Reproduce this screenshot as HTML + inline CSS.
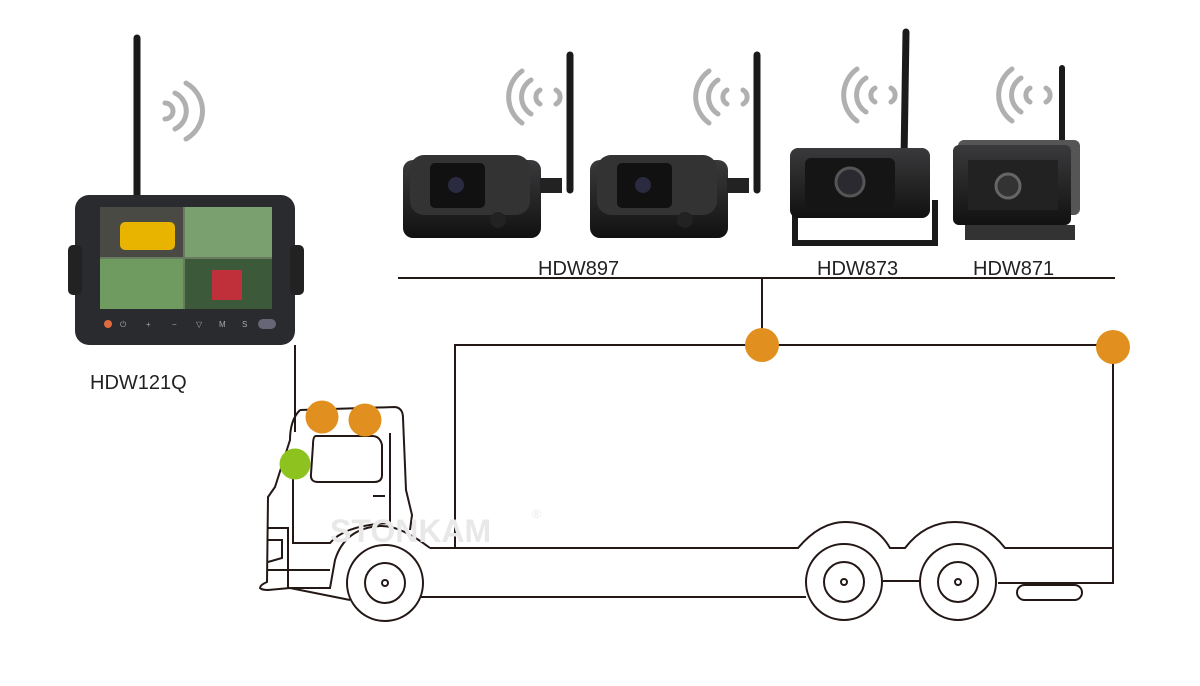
<!DOCTYPE html>
<html><head><style>
body{margin:0;background:#fff;}
svg{display:block;}
text{font-family:"Liberation Sans",sans-serif;}
</style></head><body>
<svg width="1200" height="686" viewBox="0 0 1200 686">
<defs>
<linearGradient id="cam" x1="0" y1="0" x2="0" y2="1"><stop offset="0" stop-color="#3a3a3c"/><stop offset="1" stop-color="#111"/></linearGradient>
</defs>
<g fill="none" stroke="#b0b0b0" stroke-width="5" stroke-linecap="round">
<path d="M165 103 a8 8 0 0 1 0 16"/><path d="M175 93 a20 20 0 0 1 0 36"/><path d="M186 83 a32 32 0 0 1 0 56"/>
<g id="w"><path d="M540 90 a8 8 0 0 0 0 14"/><path d="M531 80 a20 20 0 0 0 0 34"/><path d="M522 71 a32 32 0 0 0 0 52"/><path d="M556 90 a8 8 0 0 1 0 14"/></g>
<use href="#w" x="187" y="0"/><use href="#w" x="335" y="-2"/><use href="#w" x="490" y="-2"/>
</g>
<!-- antennas -->
<g stroke="#1a1a1a" stroke-linecap="round">
<line x1="137" y1="38" x2="137" y2="198" stroke-width="7"/>
<line x1="570" y1="55" x2="570" y2="190" stroke-width="7"/>
<line x1="757" y1="55" x2="757" y2="190" stroke-width="7"/>
<line x1="906" y1="32" x2="904" y2="160" stroke-width="7"/>
<line x1="1062" y1="68" x2="1062" y2="150" stroke-width="6"/>
</g>
<!-- monitor -->
<rect x="75" y="195" width="220" height="150" rx="14" fill="#2a2b2e"/>
<rect x="68" y="245" width="14" height="50" rx="5" fill="#222"/>
<rect x="290" y="245" width="14" height="50" rx="5" fill="#222"/>
<rect x="100" y="207" width="172" height="102" fill="#6a7c60"/>
<rect x="100" y="207" width="83" height="50" fill="#4a4a44"/>
<rect x="120" y="222" width="55" height="28" rx="5" fill="#e8b400"/>
<rect x="185" y="207" width="87" height="50" fill="#7aa070"/>
<rect x="100" y="259" width="83" height="50" fill="#6f9a60"/>
<rect x="185" y="259" width="87" height="50" fill="#3c5a3a"/>
<rect x="212" y="270" width="30" height="30" fill="#c0303a"/>
<circle cx="108" cy="324" r="4" fill="#e06a40"/>
<g fill="#aaa" font-size="8"><text x="120" y="327">⏻</text><text x="146" y="327">+</text><text x="172" y="327">−</text><text x="196" y="327">▽</text><text x="219" y="327">M</text><text x="242" y="327">S</text></g>
<rect x="258" y="319" width="18" height="10" rx="5" fill="#667"/>
<!-- cameras -->
<g>
<rect x="403" y="160" width="138" height="78" rx="10" fill="url(#cam)"/>
<rect x="410" y="155" width="120" height="60" rx="14" fill="#333"/>
<rect x="430" y="163" width="55" height="45" rx="5" fill="#111"/>
<circle cx="456" cy="185" r="8" fill="#2a2a40"/>
<circle cx="498" cy="220" r="8" fill="#222"/>
<rect x="540" y="178" width="22" height="15" fill="#222"/>
</g>
<g transform="translate(187,0)">
<rect x="403" y="160" width="138" height="78" rx="10" fill="url(#cam)"/>
<rect x="410" y="155" width="120" height="60" rx="14" fill="#333"/>
<rect x="430" y="163" width="55" height="45" rx="5" fill="#111"/>
<circle cx="456" cy="185" r="8" fill="#2a2a40"/>
<circle cx="498" cy="220" r="8" fill="#222"/>
<rect x="540" y="178" width="22" height="15" fill="#222"/>
</g>
<path d="M795 200 v43 h140 v-43" fill="none" stroke="#1a1a1a" stroke-width="6"/>
<rect x="790" y="148" width="140" height="70" rx="8" fill="url(#cam)"/>
<rect x="805" y="158" width="90" height="50" rx="6" fill="#151515"/>
<circle cx="850" cy="182" r="14" fill="#2a2a30" stroke="#555" stroke-width="3"/>
<rect x="958" y="140" width="122" height="75" rx="6" fill="#555"/>
<rect x="953" y="145" width="118" height="80" rx="6" fill="url(#cam)"/>
<rect x="968" y="160" width="90" height="50" fill="#222"/>
<circle cx="1008" cy="186" r="12" fill="#333" stroke="#666" stroke-width="3"/>
<rect x="965" y="225" width="110" height="15" fill="#333"/>
<!-- labels -->
<g font-size="20" fill="#222">
<text x="538" y="275">HDW897</text>
<text x="817" y="275">HDW873</text>
<text x="973" y="275">HDW871</text>
<text x="90" y="389">HDW121Q</text>
</g>
<!-- wiring -->
<g fill="none" stroke="#231815" stroke-width="2">
<line x1="398" y1="278" x2="1115" y2="278"/>
<line x1="762" y1="278" x2="762" y2="345"/>
<path d="M455 548 V345 H1113 V583 H998"/>
<line x1="295" y1="345" x2="295" y2="432"/>
<!-- trailer bottom -->
<path d="M430 548 H798 Q820 522 845 522 Q875 522 890 548 H905 Q925 522 955 522 Q985 522 1005 548 H1113"/>
<line x1="883" y1="581" x2="920" y2="581"/>
<line x1="420" y1="597" x2="806" y2="597"/>
<rect x="1017" y="585" width="65" height="15" rx="7.5"/>
<!-- wheels -->
<circle cx="385" cy="583" r="38"/><circle cx="385" cy="583" r="20"/><circle cx="385" cy="583" r="3"/>
<circle cx="844" cy="582" r="38"/><circle cx="844" cy="582" r="20"/><circle cx="844" cy="582" r="3"/>
<circle cx="958" cy="582" r="38"/><circle cx="958" cy="582" r="20"/><circle cx="958" cy="582" r="3"/>
<!-- cab -->
<path d="M430 548 Q400 525 380 526 Q345 528 335 560 L330 588 L290 588"/>
<path d="M300 410 L395 407 Q403 408 403 418 L406 490 L412 515 L410 530"/>
<path d="M300 410 Q290 420 290 440 L275 487 L268 497 L267 582 Q260 585 260 588 Q262 590 268 590 L290 588 L350 600"/>
<line x1="267" y1="570" x2="330" y2="570"/>
<path d="M267 528 H288 V588"/><path d="M268 540 H282 V558 L268 562"/>
<path d="M293 475 V543 H330 Q345 525 390 523"/>
<path d="M390 433 V524"/>
<line x1="373" y1="496" x2="385" y2="496"/>
<path d="M316 436 H372 Q380 436 382 445 V475 Q382 482 374 482 H318 Q310 482 311 474 L313 445 Q313 436 316 436 Z"/>
</g>
<text x="330" y="542" font-size="32" font-weight="bold" fill="#e8e8e8">STONKAM</text>
<text x="532" y="518" font-size="12" fill="#e8e8e8">®</text>
<!-- dots -->
<circle cx="322" cy="417" r="16.5" fill="#e1901f"/>
<circle cx="365" cy="420" r="16.5" fill="#e1901f"/>
<circle cx="295" cy="464" r="15.5" fill="#8dc21f"/>
<circle cx="762" cy="345" r="17" fill="#e1901f"/>
<circle cx="1113" cy="347" r="17" fill="#e1901f"/>
</svg>
</body></html>
